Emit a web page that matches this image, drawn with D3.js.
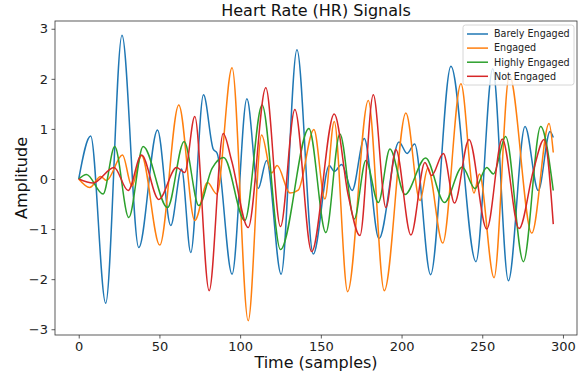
<!DOCTYPE html>
<html>
<head>
<meta charset="utf-8">
<script src="https://cdn.jsdelivr.net/npm/d3@7"></script>
<style>
  body { margin: 0; background: #fff; }
  svg { display: block; font-family: "DejaVu Sans", sans-serif; }
</style>
</head>
<body>
<div id="chart"></div>
<script>
// series names, in draw order
const names = ["Barely Engaged", "Engaged", "Highly Engaged", "Not Engaged"];
const colors = ["#1f77b4", "#ff7f0e", "#2ca02c", "#d62728"];

// turning points: sample index / amplitude
const barelyT = [0, 7.4, 16.7, 26.8, 37.2, 48.8, 57, 63.7, 69.4, 77.3, 83.3, 85.8, 95, 104.2, 111.2, 116.4, 125.4, 135.2, 145.3, 155.2, 158.3, 162.9, 169.4, 176.9, 186, 198.4, 203.5, 208.1, 218, 230.6, 246.1, 256.5, 266.2, 276.5, 284.7, 292, 294];
const barelyV = [0, 0.86, -2.48, 2.87, -1.37, 0.98, -0.93, 0.2, -1.47, 1.68, 0.6, 0.51, -1.9, 1.6, -0.19, 0.37, -1.9, 2.58, -1.5, 0.27, 0.15, 0.29, -0.23, 0.81, -1.19, 0.74, 0.51, 0.7, -1.91, 2.25, -1.65, 2.2, -2.03, 1.05, -0.23, 0.95, 0.83];

const engagedT = [0, 6.8, 13.6, 17.2, 27.1, 32.9, 38.9, 50.2, 62, 71.9, 79.8, 85.5, 95, 105, 113.3, 119.5, 122.9, 130.8, 136, 145.7, 152.5, 158.3, 166.6, 179.4, 189.3, 202.7, 211.4, 216.3, 225.5, 236.8, 244.9, 248.2, 257.3, 266.8, 280.7, 291.4, 294];
const engagedV = [0, -0.17, 0.05, -0.03, 0.48, -0.14, 0.47, -1.32, 1.48, -0.83, -0.07, -0.3, 2.22, -2.83, 0.88, 0.12, 0.27, -0.28, -0.22, 0.99, -0.4, 1.15, -2.25, 1.57, -2.23, 1.32, -0.43, 0.22, -1.28, 1.9, -0.28, 0.1, -1.97, 2.07, -1.08, 1.11, 0.53];

const highlyT = [0, 4.8, 15.1, 22.3, 31, 39.9, 55, 65.3, 74.4, 82.6, 89.8, 102.9, 113.6, 125, 142.6, 153.1, 161.8, 170.7, 177.9, 185.6, 192.8, 202.1, 214.9, 226.6, 237.6, 245.5, 252.8, 256.9, 264.5, 275.5, 286.2, 294];
const highlyV = [0, 0.09, -0.3, 0.65, -0.77, 0.65, -0.57, 0.75, -0.53, 0.21, 0.43, -0.83, 1.48, -1.41, 1.01, -1.07, 0.9, -0.8, 0.37, -0.47, 0.6, -0.31, 0.42, -0.47, 0.24, -0.19, 0.23, 0.1, 0.85, -1.65, 1.05, -0.23];

const notT = [0, 8.9, 21.9, 30.6, 38.9, 49.6, 60.6, 65.7, 71.9, 80.8, 89.5, 94.7, 105, 115.9, 125, 133.9, 144.3, 158.3, 167, 174.2, 182.5, 190.3, 196.5, 205.8, 214.5, 218.6, 225.9, 232.8, 241.8, 252.8, 262.4, 272.8, 281.7, 288.3, 294];
const notV = [0, -0.08, 0.23, -0.23, 0.48, -0.41, 0.23, 0.13, 1.25, -2.23, 0.91, 0.37, -0.97, 1.82, -0.95, 1.39, -1.45, 1.3, -0.33, -1.13, 1.68, -0.57, 0.59, -1.12, 0.33, 0.07, 0.51, -0.48, 0.79, -1.0, 0.8, -0.99, 0.17, 0.79, -0.9];

const xTicks = [0, 50, 100, 150, 200, 250, 300];
const yTicks = [-3, -2, -1, 0, 1, 2, 3];

const width = 580, height = 371;
const margin = {top: 21, right: 3, bottom: 36, left: 55};

const series = [
  [barelyT, barelyV], [engagedT, engagedV], [highlyT, highlyV], [notT, notV]
].map(([t, v], i) => ({
  name: names[i],
  color: colors[i],
  points: t.map((d, j) => ({t: d, v: v[j]}))
}));

const allPts = series.flatMap(s => s.points);
const tMax = d3.max(allPts, d => d.t);
const [vMin, vMax] = d3.extent(allPts, d => d.v);
const padT = tMax * 0.05, padV = (vMax - vMin) * 0.05;

const x = d3.scaleLinear()
    .domain([-padT, tMax + padT])
    .range([margin.left, width - margin.right]);
const y = d3.scaleLinear()
    .domain([vMin - padV, vMax + padV])
    .range([height - margin.bottom, margin.top]);

const svg = d3.select("#chart").append("svg")
    .attr("width", width)
    .attr("height", height);

svg.append("clipPath").attr("id", "clip")
  .append("rect")
    .attr("x", margin.left).attr("y", margin.top)
    .attr("width", width - margin.left - margin.right)
    .attr("height", height - margin.top - margin.bottom);

const fmt = d => d < 0 ? "\u2212" + Math.abs(d) : String(d);

const xAxis = svg.append("g")
    .attr("transform", `translate(0,${height - margin.bottom})`)
    .call(d3.axisBottom(x).tickValues(xTicks).tickSize(3.5).tickPadding(3).tickFormat(fmt));
const yAxis = svg.append("g")
    .attr("transform", `translate(${margin.left},0)`)
    .call(d3.axisLeft(y).tickValues(yTicks).tickSize(3.5).tickPadding(3.5).tickFormat(fmt));

[xAxis, yAxis].forEach(g => {
  g.select(".domain").remove();
  g.selectAll(".tick line").attr("stroke", "#333").attr("stroke-width", 0.8);
  g.selectAll(".tick text").attr("fill", "#222")
    .style("font-family", "DejaVu Sans").style("font-size", "13px");
});

const line = d3.line()
    .x(d => x(d.t))
    .y(d => y(d.v))
    .curve(d3.curveMonotoneX);

svg.append("g")
    .attr("clip-path", "url(#clip)")
  .selectAll("path")
  .data(series)
  .join("path")
    .attr("d", d => line(d.points))
    .attr("fill", "none")
    .attr("stroke", d => d.color)
    .attr("stroke-width", 1.5)
    .attr("stroke-linejoin", "round");

// frame
svg.append("rect")
    .attr("x", margin.left).attr("y", margin.top)
    .attr("width", width - margin.left - margin.right)
    .attr("height", height - margin.top - margin.bottom)
    .attr("fill", "none")
    .attr("stroke", "#333")
    .attr("stroke-width", 0.8);

svg.append("text")
    .attr("x", (margin.left + width - margin.right) / 2)
    .attr("y", 16)
    .attr("text-anchor", "middle")
    .attr("fill", "#111")
    .style("font-size", "16px")
    .text("Heart Rate (HR) Signals");

svg.append("text")
    .attr("x", (margin.left + width - margin.right) / 2)
    .attr("y", 367.5)
    .attr("text-anchor", "middle")
    .attr("fill", "#111")
    .style("font-size", "16px")
    .text("Time (samples)");

svg.append("text")
    .attr("transform", `translate(27,${(margin.top + height - margin.bottom) / 2}) rotate(-90)`)
    .attr("text-anchor", "middle")
    .attr("fill", "#111")
    .style("font-size", "16px")
    .text("Amplitude");

// legend
const lg = svg.append("g").attr("transform", "translate(463,25)");
lg.append("rect")
    .attr("width", 111).attr("height", 60)
    .attr("rx", 2.5)
    .attr("fill", "#fff").attr("fill-opacity", 0.8)
    .attr("stroke", "#ccc").attr("stroke-width", 0.8);
const items = lg.selectAll("g.item")
  .data(series)
  .join("g")
    .attr("class", "item")
    .attr("transform", (d, i) => `translate(0,${9 + i * 14.1})`);
items.append("line")
    .attr("x1", 4).attr("x2", 25)
    .attr("stroke", d => d.color).attr("stroke-width", 1.5);
items.append("text")
    .attr("x", 31).attr("dy", "0.35em")
    .attr("fill", "#222")
    .style("font-size", "9.6px")
    .text(d => d.name);
</script>
</body>
</html>
